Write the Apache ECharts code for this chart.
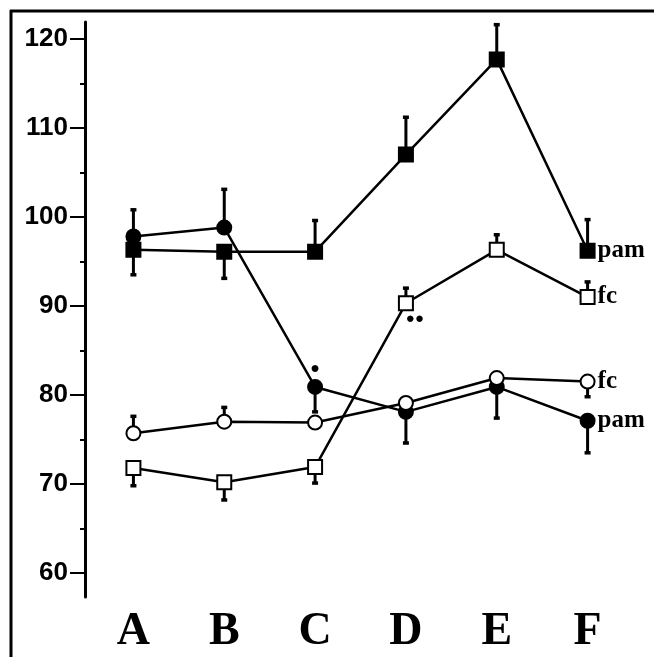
<!DOCTYPE html>
<html>
<head>
<meta charset="utf-8">
<script src="https://cdn.jsdelivr.net/npm/echarts@6/dist/echarts.min.js"></script>
<style>
  html, body { margin: 0; padding: 0; background: #fff; }
  #chart { width: 654px; height: 657px; }
</style>
</head>
<body>
<div id="chart"></div>
<script>
// groups along x
var categories = ['A', 'B', 'C', 'D', 'E', 'F'];
var yTicks = [60, 70, 80, 90, 100, 110, 120];
var yMinorTicks = [65, 75, 85, 95, 105, 115];

// filled square (pam)
var pamSquare = [96.3, 96.1, 96.1, 107.0, 117.7, 96.2];
var pamSquareErr = [93.5, 93.1, 99.6, 111.2, 121.6, 99.7];
// filled circle (pam)
var pamCircle = [97.8, 98.8, 80.9, 78.1, 80.9, 77.1];
var pamCircleErr = [100.8, 103.1, 78.1, 74.6, 77.4, 73.5];
// open square (fc)
var fcSquare = [71.8, 70.2, 71.9, 90.3, 96.3, 91.0];
var fcSquareErr = [69.8, 68.2, 70.1, 92.0, 98.0, 92.7];
// open circle (fc)
var fcCircle = [75.7, 77.0, 76.9, 79.1, 81.9, 81.5];
var fcCircleErr = [77.6, 78.6, null, null, null, 79.8];

var endLabels = ['pam', 'pam', 'fc', 'fc'];

var myChart = echarts.init(document.getElementById('chart'));

function errData(vals, ends) {
    var out = [];
    for (var i = 0; i < vals.length; i++) {
        if (ends[i] != null) out.push([i, vals[i], ends[i]]);
    }
    return out;
}

function renderErr(params, api) {
    var p0 = api.coord([api.value(0), api.value(1)]);
    var p1 = api.coord([api.value(0), api.value(2)]);
    return {
        type: 'group',
        children: [
            { type: 'line', shape: { x1: p0[0], y1: p0[1], x2: p1[0], y2: p1[1] },
              style: { stroke: '#000', lineWidth: 3 } },
            { type: 'line', shape: { x1: p1[0] - 3, y1: p1[1], x2: p1[0] + 3, y2: p1[1] },
              style: { stroke: '#000', lineWidth: 3.5 } }
        ]
    };
}

function withEndLabel(vals, text, extra) {
    return vals.map(function (v, i) {
        var item = { value: v };
        if (i === vals.length - 1) {
            item.label = {
                show: true, position: 'right', distance: 2, formatter: text,
                fontFamily: 'Liberation Serif', fontWeight: 'bold', fontSize: 25, color: '#000'
            };
        }
        if (extra && extra[i]) item.label = extra[i];
        return item;
    });
}

function lineSeries(name, vals, symbol, fill) {
    return {
        name: name,
        type: 'line',
        data: vals,
        symbol: symbol,
        symbolSize: 14,
        showAllSymbol: true,
        z: 5,
        itemStyle: { color: fill, borderColor: '#000', borderWidth: 2 },
        lineStyle: { color: '#000', width: 2.5 },
        emphasis: { disabled: true },
        animation: false
    };
}

function errSeries(data) {
    return {
        type: 'custom',
        data: data,
        renderItem: renderErr,
        z: 3,
        silent: true,
        animation: false
    };
}

var sigDot = {
    show: true, position: 'top', distance: 2, formatter: '●',
    fontSize: 16, color: '#000'
};
var sigDots = {
    show: true, position: 'bottom', distance: 0, offset: [9, 0], formatter: '●●',
    fontSize: 15, color: '#000'
};

myChart.setOption({
    backgroundColor: '#fff',
    animation: false,
    grid: { left: 88, right: 21, top: 22, bottom: 60 },
    graphic: [
        { type: 'line', shape: { x1: 11, y1: 10, x2: 11, y2: 657 }, style: { stroke: '#000', lineWidth: 3 } },
        { type: 'line', shape: { x1: 10, y1: 11, x2: 654, y2: 11 }, style: { stroke: '#000', lineWidth: 3 } }
    ],
    xAxis: {
        type: 'category',
        data: categories,
        boundaryGap: true,
        axisLine: { show: false },
        axisTick: { show: false },
        axisLabel: {
            margin: 12,
            fontFamily: 'Liberation Serif', fontWeight: 'bold', fontSize: 46, color: '#000'
        }
    },
    yAxis: [
        {
            type: 'value',
            min: 57.3,
            max: 121.9,
            offset: 3,
            splitLine: { show: false },
            axisLine: { show: true, lineStyle: { color: '#000', width: 3 } },
            axisTick: { show: true, customValues: yTicks, length: 15, lineStyle: { color: '#000', width: 2 } },
            axisLabel: {
                customValues: yTicks, margin: 17,
                fontFamily: 'Liberation Sans', fontWeight: 'bold', fontSize: 26, color: '#000'
            }
        },
        {
            type: 'value',
            min: 57.3,
            max: 121.9,
            position: 'left',
            offset: 3,
            splitLine: { show: false },
            axisLine: { show: false },
            axisTick: { show: true, customValues: yMinorTicks, length: 5, lineStyle: { color: '#000', width: 2 } },
            axisLabel: { show: false }
        }
    ],
    series: [
        errSeries(errData(pamSquare, pamSquareErr)),
        errSeries(errData(pamCircle, pamCircleErr)),
        errSeries(errData(fcSquare, fcSquareErr)),
        errSeries(errData(fcCircle, fcCircleErr)),
        lineSeries('pam', withEndLabel(pamSquare, endLabels[0]), 'rect', '#000'),
        lineSeries('pam', withEndLabel(pamCircle, endLabels[1], [null, null, sigDot]), 'circle', '#000'),
        lineSeries('fc', withEndLabel(fcSquare, endLabels[2], [null, null, null, sigDots]), 'rect', '#fff'),
        lineSeries('fc', withEndLabel(fcCircle, endLabels[3]), 'circle', '#fff')
    ]
});
</script>
</body>
</html>
